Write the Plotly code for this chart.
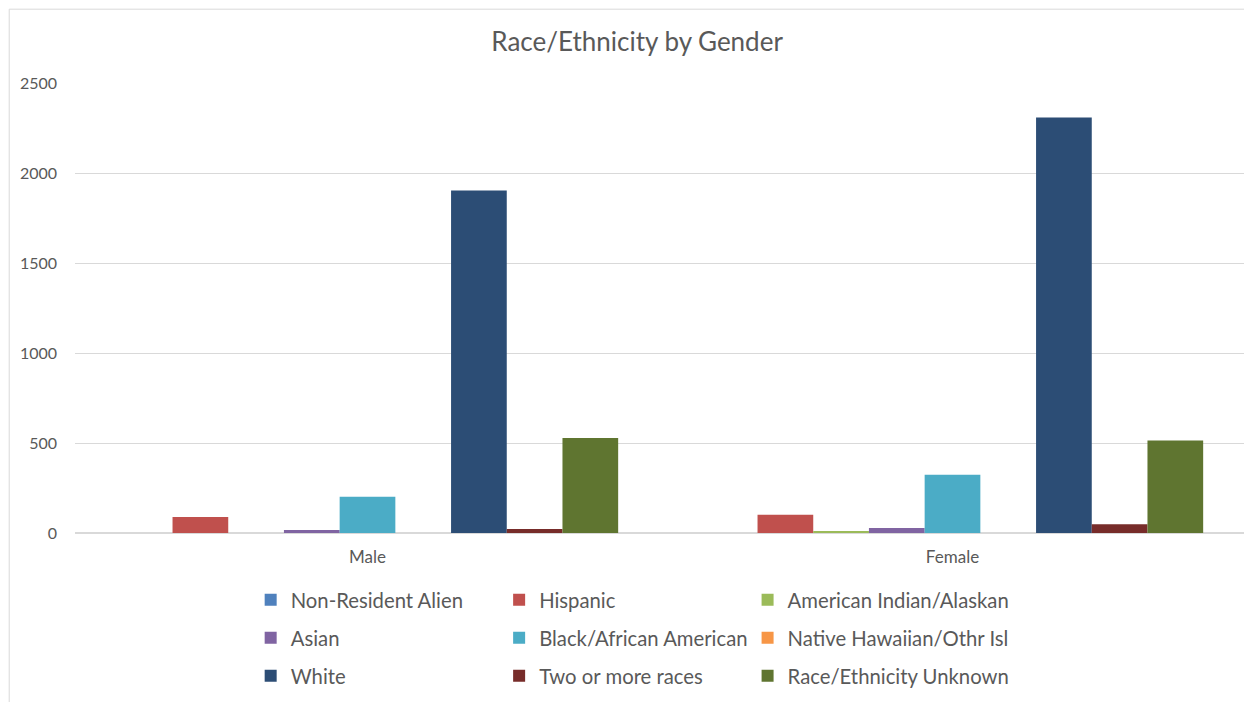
import plotly.graph_objects as go

genders = ["Male", "Female"]
series_names = [
    "Non-Resident Alien", "Hispanic", "American Indian/Alaskan",
    "Asian", "Black/African American", "Native Hawaiian/Othr Isl",
    "White", "Two or more races", "Race/Ethnicity Unknown",
]
non_resident = [0, 0]
hispanic = [89, 102]
american_indian = [0, 7]
asian = [16, 28]
black = [202, 324]
native_hawaiian = [0, 0]
white = [1903, 2309]
two_or_more = [22, 48]
unknown = [528, 514]
series_values = [non_resident, hispanic, american_indian, asian, black,
                 native_hawaiian, white, two_or_more, unknown]
colors = ["#4F81BD", "#C0504D", "#9BBB59", "#8064A2", "#4BACC6",
          "#F79646", "#2C4D75", "#772C2A", "#5F7530"]
y_ticks = [0, 500, 1000, 1500, 2000, 2500]

W, H = 1252, 702
OFF = 8  # page body margin offset
L, R, T, B = 75.3 - OFF, 1245.5 - OFF, 83.3 - OFF, 533.3 - OFF
FONT = "Lato"
GREY = "#595959"
LEG_FONT = 20.3

def px_x(px):
    return (px - OFF - L) / (R - L)

def px_y(py):
    return (B - (py - OFF)) / (B - T)

fig = go.Figure()
legend_ids = ["legend", "legend2", "legend3"]
for i, (name, vals, col) in enumerate(zip(series_names, series_values, colors)):
    fig.add_trace(go.Bar(
        x=genders, y=vals, name=name, marker_color=col,
        marker_line_width=0,
        legend=legend_ids[i % 3], legendgroup=name,
    ))

item_h = LEG_FONT * 1.3 + 3
row_gap = 38 - item_h
legend_common = dict(
    orientation="v", xanchor="left", yanchor="top",
    font=dict(family=FONT, size=LEG_FONT, color=GREY),
    bgcolor="rgba(0,0,0,0)", borderwidth=0, tracegroupgap=row_gap,
    traceorder="grouped",
    itemclick=False, itemdoubleclick=False,
)
layout_legends = {}
col_x = [251, 251 + 248.5, 251 + 497]
for lid, cx in zip(legend_ids, col_x):
    layout_legends[lid] = dict(legend_common, x=px_x(cx), y=px_y(595 - item_h / 2))

fig.update_layout(
    width=W, height=H,
    margin=dict(l=L, r=W - R, t=T, b=H - B, pad=0, autoexpand=False),
    paper_bgcolor="white", plot_bgcolor="white",
    barmode="group", bargap=0.143, bargroupgap=0,
    title=dict(text="Race/Ethnicity by Gender", x=px_x(637.5), xanchor="center",
               xref="paper", y=1 - (42 - OFF) / H, yanchor="middle",
               font=dict(family=FONT, size=26, color=GREY)),
    font=dict(family=FONT, color=GREY),
    showlegend=True,
    **layout_legends,
)
fig.update_xaxes(
    showgrid=False, showline=False, zeroline=False, ticks="",
    tickfont=dict(family=FONT, size=17, color=GREY),
    ticklabelstandoff=12, automargin=False,
)
fig.update_yaxes(
    range=[0, 2500], tickvals=y_ticks, showgrid=True, gridcolor="#D9D9D9",
    gridwidth=1, zeroline=True, zerolinecolor="#D9D9D9", zerolinewidth=1.5,
    showline=False, ticks="",
    tickfont=dict(family=FONT, size=16, color=GREY),
    ticklabelstandoff=17, automargin=False,
)
# chart-area border
fig.add_shape(type="rect", xref="paper", yref="paper",
              x0=px_x(9.5), x1=px_x(1249.5), y0=px_y(712), y1=px_y(9.5),
              line=dict(color="#D9D9D9", width=1), fillcolor="rgba(0,0,0,0)",
              layer="below")

fig.write_html("out.html")
